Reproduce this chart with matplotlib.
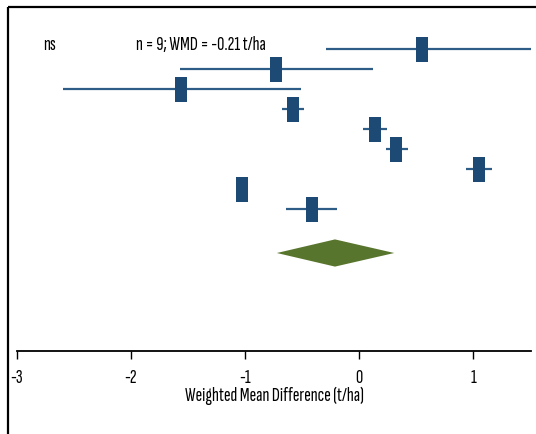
"""
Forest plot: weighted mean difference of yield (t/ha), 9 studies + pooled estimate
"""

import numpy as np
import matplotlib.pyplot as plt
from matplotlib.lines import Line2D
from matplotlib.path import Path

plt.rcParams['font.family'] = ['Sofia Sans Extra Condensed', 'DejaVu Sans']

# ------------------------------------------------------------
# data
# ------------------------------------------------------------
study_wmd = [0.55, -0.73, -1.56, -0.58, 0.14, 0.325, 1.05, -1.03, -0.415]
study_lo  = [-0.29, -1.57, -2.60, -0.675, 0.04, 0.24, 0.94, -1.06, -0.64]
study_hi  = [1.60, 0.12, -0.51, -0.48, 0.25, 0.43, 1.17, -1.00, -0.19]
study_row = [1, 2, 3, 4, 5, 6, 7, 8, 9]

pooled_wmd = -0.21
pooled_lo  = -0.72
pooled_hi  = 0.31
pooled_row = 11.2

xticks = [-3, -2, -1, 0, 1]
xlabel = 'Weighted Mean Difference (t/ha)'
note_sig = 'ns'
note_sum = 'n = 9; WMD = -0.21 t/ha'

blue_line = '#2d5c87'
blue_box  = '#1c4a74'
green     = '#58752e'

# ------------------------------------------------------------
# figure
# ------------------------------------------------------------
W, H = 536, 434
fig = plt.figure(figsize=(W / 100, H / 100), dpi=100)
ax = fig.add_axes([17 / W, (H - 350.7) / H, 514 / W, (350.7 - 6) / H])

# tall rectangle marker for study estimates
box = Path([(-0.25, -0.5), (0.25, -0.5), (0.25, 0.5), (-0.25, 0.5), (-0.25, -0.5)],
           [Path.MOVETO, Path.LINETO, Path.LINETO, Path.LINETO, Path.CLOSEPOLY])

for m, lo, hi, r in zip(study_wmd, study_lo, study_hi, study_row):
    ax.plot([lo, hi], [r, r], color=blue_line, lw=1.6, solid_capstyle='butt',
            clip_on=True, zorder=2)
    ax.plot([m], [r], marker=box, markersize=18, color=blue_box,
            markeredgewidth=0, linestyle='none', zorder=3)

# pooled diamond
dh = 0.68
ax.fill([pooled_lo, pooled_wmd, pooled_hi, pooled_wmd],
        [pooled_row, pooled_row - dh, pooled_row, pooled_row + dh],
        color=green, lw=0, zorder=3)

fs = 14.5
ax.text(-2.77, 0.8, note_sig, fontsize=fs, ha='left', va='center')
ax.text(-1.956, 0.8, note_sum, fontsize=fs, ha='left', va='center')

ax.set_xlim(-3, 1.51)
ax.set_ylim(16.085, -1.15)
ax.set_xticks(xticks)
ax.set_xticklabels([str(t) for t in xticks], fontsize=fs)
ax.set_yticks([])
ax.set_xlabel(xlabel, fontsize=fs, labelpad=0)
for s in ['top', 'right', 'left']:
    ax.spines[s].set_visible(False)
ax.spines['bottom'].set_linewidth(1.3)
ax.tick_params(axis='x', direction='out', length=6, width=1, pad=7)
ax.patch.set_alpha(0)

# outer frame (left and top edges)
fig.add_artist(Line2D([7.5 / W, 7.5 / W], [0, 1 - 6.5 / H], color='black', lw=1.6,
                      transform=fig.transFigure, solid_capstyle='butt'))
fig.add_artist(Line2D([7.5 / W, 1], [1 - 6.5 / H, 1 - 6.5 / H], color='black', lw=1.6,
                      transform=fig.transFigure, solid_capstyle='butt'))

fig.savefig('out.png', dpi=100)
